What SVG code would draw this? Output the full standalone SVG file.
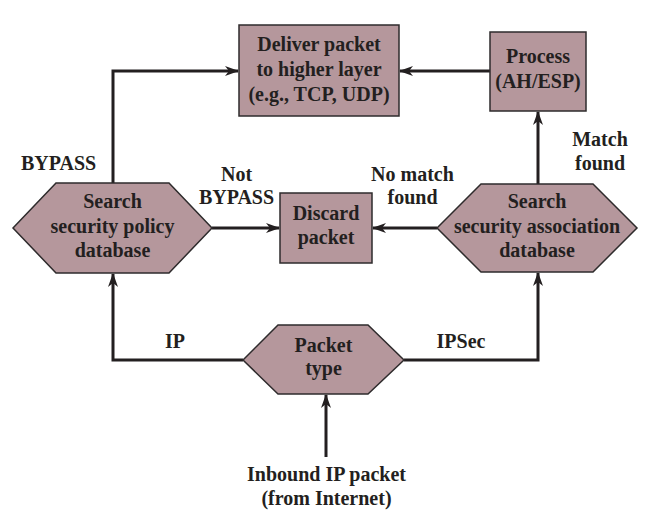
<svg xmlns="http://www.w3.org/2000/svg" width="656" height="525" viewBox="0 0 656 525">
<defs>
<style>
.node{fill:#b5979c;stroke:#2e2b2c;stroke-width:1.5}
.t{font-family:"Liberation Serif","Times New Roman",serif;font-weight:bold;font-size:20px;fill:#231f20;text-anchor:middle}
.c{fill:none;stroke:#231f20;stroke-width:3}
</style>
<marker id="ah" markerWidth="14" markerHeight="10" refX="13" refY="5" orient="auto" markerUnits="userSpaceOnUse">
<path d="M0,0 L14,5 L0,10 L4,5 Z" fill="#231f20"/>
</marker>
</defs>
<rect width="656" height="525" fill="#ffffff"/>
<g id="connectors">
<polyline class="c" points="113,183 113,71 238,71" marker-end="url(#ah)"/>
<line class="c" x1="490" y1="71" x2="400" y2="71" marker-end="url(#ah)"/>
<line class="c" x1="538" y1="184" x2="538" y2="112" marker-end="url(#ah)"/>
<line class="c" x1="212" y1="228" x2="279" y2="228" marker-end="url(#ah)"/>
<line class="c" x1="437" y1="228" x2="373" y2="228" marker-end="url(#ah)"/>
<polyline class="c" points="243,360 113,360 113,274" marker-end="url(#ah)"/>
<polyline class="c" points="404,360 538,360 538,273" marker-end="url(#ah)"/>
<line class="c" x1="326" y1="457" x2="326" y2="395" marker-end="url(#ah)"/>
</g>
<g id="deliver">
<rect class="node" x="239" y="25" width="160" height="91"/>
<text class="t" x="319" y="51">Deliver packet</text>
<text class="t" x="319" y="76">to higher layer</text>
<text class="t" x="319" y="101">(e.g., TCP, UDP)</text>
</g>
<g id="process">
<rect class="node" x="490" y="32" width="96" height="79"/>
<text class="t" x="538" y="63">Process</text>
<text class="t" x="538" y="88">(AH/ESP)</text>
</g>
<g id="spd">
<polygon class="node" points="13,228 56,183 169,183 212,228 169,273 56,273"/>
<text class="t" x="112.5" y="208">Search</text>
<text class="t" x="112.5" y="233">security policy</text>
<text class="t" x="112.5" y="257">database</text>
</g>
<g id="discard">
<rect class="node" x="280" y="193" width="92" height="70"/>
<text class="t" x="326" y="220">Discard</text>
<text class="t" x="326" y="244">packet</text>
</g>
<g id="sad">
<polygon class="node" points="437,228 481,184 593,184 637,228 593,272 481,272"/>
<text class="t" x="537" y="208">Search</text>
<text class="t" x="537" y="233">security association</text>
<text class="t" x="537" y="257">database</text>
</g>
<g id="packettype">
<polygon class="node" points="243,360 278,325 368,325 404,360 368,394 278,394"/>
<text class="t" x="323.5" y="352">Packet</text>
<text class="t" x="323.5" y="375">type</text>
</g>
<g id="labels">
<text class="t" x="21" y="170" style="text-anchor:start">BYPASS</text>
<text class="t" x="236.5" y="181">Not</text>
<text class="t" x="236.5" y="204">BYPASS</text>
<text class="t" x="412.5" y="181">No match</text>
<text class="t" x="412.5" y="204">found</text>
<text class="t" x="600" y="146">Match</text>
<text class="t" x="600" y="170">found</text>
<text class="t" x="175" y="348">IP</text>
<text class="t" x="461" y="348">IPSec</text>
<text class="t" x="326.5" y="481">Inbound IP packet</text>
<text class="t" x="326.5" y="505">(from Internet)</text>
</g>
</svg>
